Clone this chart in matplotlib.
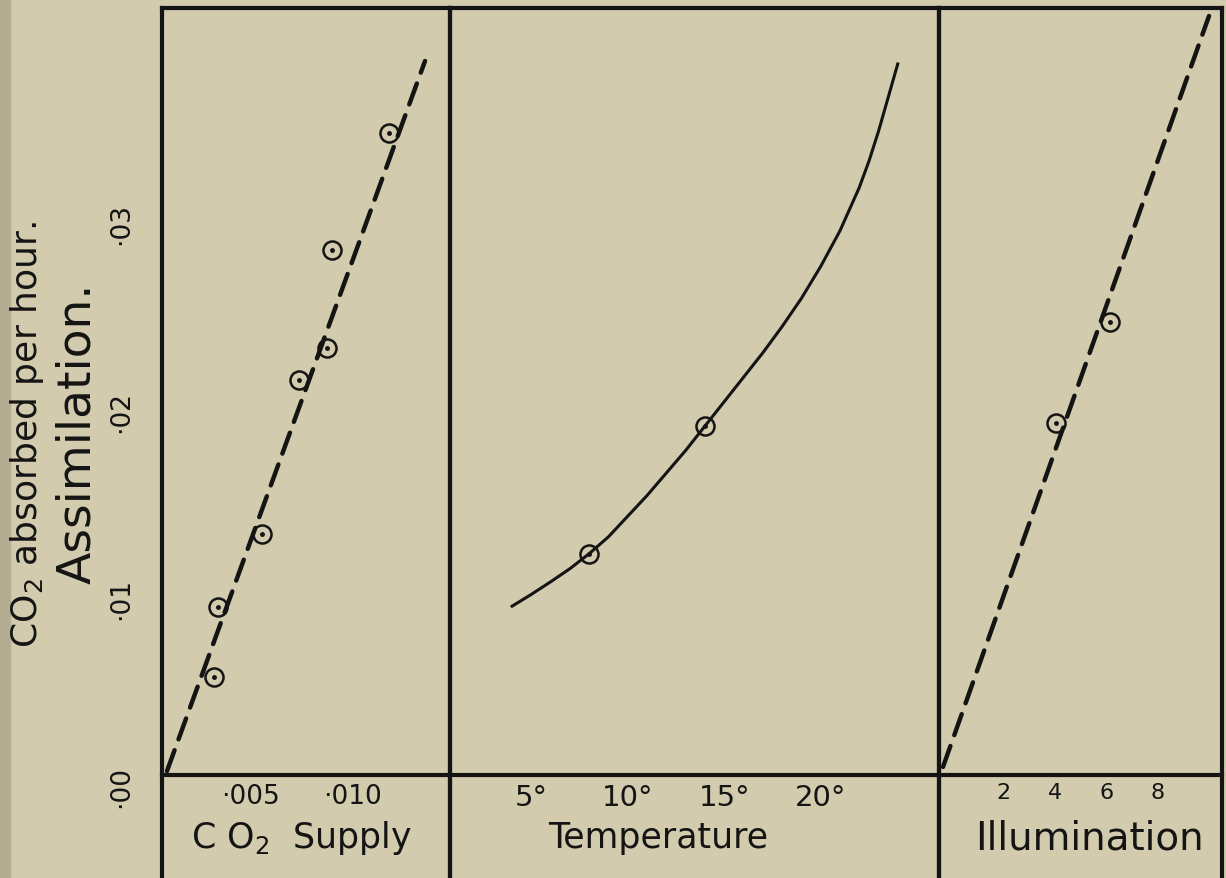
import numpy as np
import matplotlib
matplotlib.use("Agg")
import matplotlib.pyplot as plt
from matplotlib.patches import Rectangle

# CO2 supply panel
co2_x = [0.00325, 0.00345, 0.0056, 0.0074, 0.00876, 0.0090, 0.01183]
co2_y = [0.00522, 0.00896, 0.01285, 0.02106, 0.02275, 0.02799, 0.0342]
co2_line_x = [0.00093, 0.01358]
co2_line_y = [0.00021, 0.03806]
co2_ticks = [0.005, 0.010]
co2_labels = ["·005", "·010"]

temp_curve_x = [4, 5, 6, 7, 8, 9, 10, 11, 12, 13, 14, 15, 16, 17, 18, 19, 20, 21,
                22, 22.5, 23, 23.5, 24]
temp_curve_y = [0.0090, 0.00963, 0.0103, 0.0110, 0.0118, 0.0127, 0.0138, 0.0149,
                0.0161, 0.0173, 0.0186, 0.0199, 0.0212, 0.0225, 0.0239, 0.0254,
                0.0271, 0.0290, 0.0313, 0.0327, 0.0343, 0.0361, 0.0379]
temp_x = [8.0, 14.0]
temp_y = [0.0118, 0.0186]
temp_ticks = [5, 10, 15, 20]
temp_labels = ["5°", "10°", "15°", "20°"]

# illumination panel
ill_x = [4.05, 6.15]
ill_y = [0.01876, 0.02416]
ill_line_x = [-0.35, 10.0]
ill_line_y = [0.00043, 0.04046]
ill_ticks = [2, 4, 6, 8]
ill_labels = ["2", "4", "6", "8"]

y_ticks = [0.0, 0.01, 0.02, 0.03]
y_labels = ["·00", "·01", "·02", "·03"]

bg = "#d3cbae"
ink = "#141414"

W, H = 1226, 879
fig = plt.figure(figsize=(W / 100, H / 100), dpi=100)
fig.patch.set_facecolor(bg)
fig.patches.append(Rectangle((0, 0), 10 / W, 1, transform=fig.transFigure,
                             color="#b5ad92", zorder=0))

top_px, bot_px = 9, 879
ylim = ((776 - 879) / 18760, (776 - 9) / 18760)


def make_panel(x0, x1, xlim):
    ax = fig.add_axes([x0 / W, 0, (x1 - x0) / W, (bot_px - top_px) / H])
    ax.set_facecolor("none")
    ax.set_xlim(*xlim)
    ax.set_ylim(*ylim)
    for s in ax.spines.values():
        s.set_linewidth(3.0)
        s.set_color(ink)
    ax.spines["bottom"].set_position(("data", 0))
    ax.tick_params(length=0, colors=ink)
    ax.set_yticks([])
    return ax


ax1 = make_panel(162, 450, ((162 - 148) / 20400, (450 - 148) / 20400))
ax2 = make_panel(450, 939, ((450 - 435) / 19.28, (939 - 435) / 19.28))
ax3 = make_panel(939, 1222, ((939 - 952) / 25.7, (1222 - 952) / 25.7))

dash = dict(color=ink, lw=3.2, dashes=(5, 2.6), solid_capstyle="round",
            dash_capstyle="round")
circ = dict(ls="none", marker="o", ms=13, mfc="none", mec=ink, mew=1.8)
dot = dict(ls="none", marker="o", ms=2.5, color=ink)

# CO2 supply
ax1.plot(co2_line_x, co2_line_y, **dash)
ax1.plot(co2_x, co2_y, **circ)
ax1.plot(co2_x, co2_y, **dot)
ax1.set_xticks(co2_ticks, co2_labels, fontsize=19)
ax1.set_yticks(y_ticks, y_labels, fontsize=19)
ax1.tick_params(axis="y", labelrotation=90, pad=20)
ax1.tick_params(axis="x", pad=6)
ax1.set_xlabel("C O$_2$  Supply", fontsize=25, color=ink, va="center")
ax1.xaxis.set_label_coords(0.486, 0.047)

# temperature
ax2.plot(temp_curve_x, temp_curve_y, color=ink, lw=2.2, solid_joinstyle="round")
ax2.plot(temp_x, temp_y, **circ)
ax2.plot(temp_x, temp_y, **dot)
ax2.set_xticks(temp_ticks, temp_labels, fontsize=21)
ax2.tick_params(axis="x", pad=6)
ax2.set_xlabel("Temperature", fontsize=25, color=ink, va="center")
ax2.xaxis.set_label_coords(0.425, 0.047)

# illumination
ax3.plot(ill_line_x, ill_line_y, **dash)
ax3.plot(ill_x, ill_y, **circ)
ax3.plot(ill_x, ill_y, **dot)
ax3.set_xticks(ill_ticks, ill_labels, fontsize=16)
ax3.tick_params(axis="x", pad=5)
ax3.set_xlabel("Illumination", fontsize=28, color=ink, va="center")
ax3.xaxis.set_label_coords(0.53, 0.047)

# y axis titles
fig.text(27 / W, 1 - 435 / H, "CO$_2$ absorbed per hour.", rotation=90,
         ha="center", va="center", fontsize=26, color=ink)
fig.text(78 / W, 1 - 433 / H, "Assimilation.", rotation=90,
         ha="center", va="center", fontsize=34, color=ink)

fig.savefig("out.png", dpi=100, facecolor=bg)
